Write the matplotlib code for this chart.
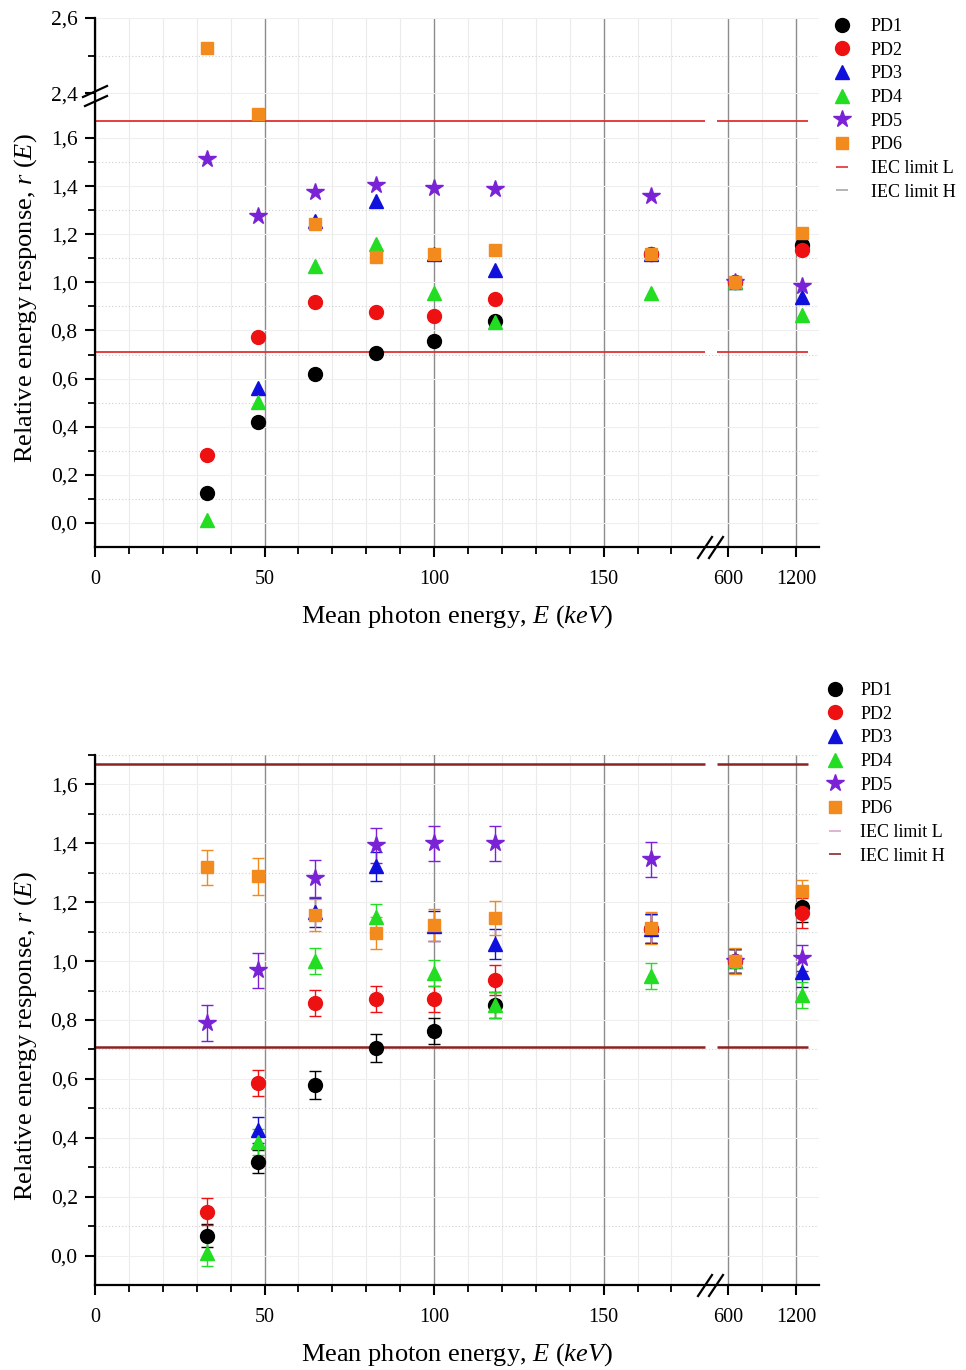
import numpy as np
import matplotlib.pyplot as plt
from matplotlib.lines import Line2D
from matplotlib.ticker import FixedLocator, FuncFormatter

plt.rcParams['font.family'] = ['Liberation Serif', 'DejaVu Serif']
plt.rcParams['mathtext.fontset'] = 'custom'
plt.rcParams['mathtext.rm'] = 'Liberation Serif'
plt.rcParams['mathtext.it'] = 'Liberation Serif:italic'

W, H = 966, 1370
nan = np.nan

# mean photon energy (keV)
energy = [33, 48, 65, 83, 100, 118, 164, 662, 1250]

# upper chart: relative energy response
pd1_top = [0.125, 0.42, 0.62, 0.707, 0.757, 0.84, 1.12, 1.0, 1.156]
pd2_top = [0.283, 0.773, 0.919, 0.877, 0.861, 0.931, 1.12, 1.0, 1.135]
pd3_top = [nan, 0.561, 1.255, 1.34, 1.12, 1.05, 1.12, 1.0, 0.94]
pd4_top = [0.012, 0.503, 1.07, 1.16, 0.956, 0.836, 0.956, 1.0, 0.865]
pd5_top = [1.513, 1.277, 1.376, 1.405, 1.393, 1.389, 1.36, 1.0, 0.985]
pd6_top = [2.52, 1.70, 1.243, 1.106, 1.118, 1.135, 1.118, 1.0, 1.206]

# lower chart: relative energy response with uncertainty
pd1_bot = [0.068, 0.319, 0.58, 0.705, 0.763, 0.851, 1.11, 1.0, 1.183]
pd2_bot = [0.149, 0.586, 0.858, 0.871, 0.871, 0.936, 1.11, 1.0, 1.163]
pd3_bot = [nan, 0.427, 1.166, 1.322, 1.12, 1.058, 1.11, 1.0, 0.963]
pd4_bot = [0.01, 0.386, 1.0, 1.149, 0.959, 0.851, 0.949, 1.0, 0.885]
pd5_bot = [0.79, 0.969, 1.281, 1.393, 1.40, 1.40, 1.346, 1.0, 1.01]
pd6_bot = [1.319, 1.288, 1.156, 1.095, 1.122, 1.146, 1.112, 1.0, 1.237]
err1_bot = [0.04, 0.04, 0.048, 0.047, 0.045, 0.045, 0.05, 0.04, 0.05]
err2_bot = [0.045, 0.045, 0.045, 0.045, 0.045, 0.05, 0.05, 0.04, 0.05]
err3_bot = [nan, 0.045, 0.05, 0.05, 0.05, 0.05, 0.05, 0.04, 0.05]
err4_bot = [0.045, 0.045, 0.045, 0.045, 0.045, 0.045, 0.045, 0.04, 0.045]
err5_bot = [0.062, 0.06, 0.062, 0.06, 0.06, 0.06, 0.06, 0.04, 0.045]
err6_bot = [0.06, 0.062, 0.055, 0.055, 0.055, 0.058, 0.055, 0.045, 0.04]

iec_low, iec_high = 0.71, 1.67

names = ['PD1', 'PD2', 'PD3', 'PD4', 'PD5', 'PD6']
colors = ['black', '#ee1111', '#1010dd', '#22dd22', '#7a22d6', '#f28a1e']
markers = ['o', 'o', '^', '^', '*', 's']
msizes = [10, 10, 10.5, 10.5, 13, 8.5]


def piecewise(xp, fp):
    xp = np.asarray(xp, float)
    fp = np.asarray(fp, float)
    s0 = (fp[1] - fp[0]) / (xp[1] - xp[0])
    s1 = (fp[-1] - fp[-2]) / (xp[-1] - xp[-2])

    def f(v):
        v = np.asarray(v, float)
        out = np.interp(v, xp, fp)
        out = np.where(v < xp[0], fp[0] + (v - xp[0]) * s0, out)
        return np.where(v > xp[-1], fp[-1] + (v - xp[-1]) * s1, out)
    return f


# broken x axis: 0-181 linear, then 500-1400 compressed
x_fwd = piecewise([0, 181, 500, 1400], [0, 181, 183.4, 213.5])
x_inv = piecewise([0, 181, 183.4, 213.5], [0, 181, 500, 1400])
# broken y axis of the upper chart
y_fwd = piecewise([-0.1, 1.76, 2.4, 2.6], [-0.1, 1.76, 1.787, 2.099])
y_inv = piecewise([-0.1, 1.76, 1.787, 2.099], [-0.1, 1.76, 2.4, 2.6])

comma = FuncFormatter(lambda v, p: f'{v:.1f}'.replace('.', ','))

fig = plt.figure(figsize=(W / 100, H / 100), dpi=100)
ax1 = fig.add_axes([95 / W, 1 - 547 / H, 724 / W, 529 / H])
ax2 = fig.add_axes([95 / W, 1 - 1285 / H, 724 / W, 530 / H])

ax1.set_yscale('function', functions=(y_fwd, y_inv))
ax1.set_ylim(-0.1, 2.6)
ax2.set_ylim(-0.1, 1.7)

ymaj1 = [0, 0.2, 0.4, 0.6, 0.8, 1.0, 1.2, 1.4, 1.6, 2.4, 2.6]
ymin1 = [0.1, 0.3, 0.5, 0.7, 0.9, 1.1, 1.3, 1.5, 2.5]
ymaj2 = [0, 0.2, 0.4, 0.6, 0.8, 1.0, 1.2, 1.4, 1.6]
ymin2 = [0.1, 0.3, 0.5, 0.7, 0.9, 1.1, 1.3, 1.5, 1.7]

for ax, ymaj, ymin in ((ax1, ymaj1, ymin1), (ax2, ymaj2, ymin2)):
    ax.set_xscale('function', functions=(x_fwd, x_inv))
    ax.set_xlim(0, 1400)
    ax.xaxis.set_major_locator(FixedLocator([0, 50, 100, 150, 600, 1200]))
    ax.xaxis.set_minor_locator(FixedLocator([10, 20, 30, 40, 60, 70, 80, 90, 110, 120,
                                             130, 140, 160, 170, 900]))
    ax.xaxis.set_major_formatter(FuncFormatter(lambda v, p: f'{v:g}'))
    ax.xaxis.set_minor_formatter(FuncFormatter(lambda v, p: ''))
    ax.yaxis.set_major_locator(FixedLocator(ymaj))
    ax.yaxis.set_minor_locator(FixedLocator(ymin))
    ax.yaxis.set_major_formatter(comma)
    ax.yaxis.set_minor_formatter(FuncFormatter(lambda v, p: ''))
    ax.set_axisbelow(True)
    ax.xaxis.grid(True, which='major', color='#8c8c8c', lw=1.0)
    ax.xaxis.grid(True, which='minor', color='#ebebeb', lw=0.8)
    ax.yaxis.grid(True, which='major', color='#efefef', lw=0.8)
    ax.yaxis.grid(True, which='minor', color='#d0d0d0', lw=0.8, ls=(0, (1, 2)))
    for s in ('top', 'right'):
        ax.spines[s].set_visible(False)
    for s in ('left', 'bottom'):
        ax.spines[s].set_linewidth(1.6)
    ax.tick_params(which='major', direction='out', length=7.5, width=1.5)
    ax.tick_params(which='minor', direction='out', length=5, width=1.3)
    ax.tick_params(axis='y', pad=5, labelsize=15.5)
    ax.tick_params(axis='x', pad=9, labelsize=14.5)
    ax.set_xlabel('Mean photon energy, $E$ ($keV$)', fontsize=19, labelpad=10)
    ax.set_ylabel('Relative energy response, $r$ ($E$)', fontsize=19)

ax1.yaxis.set_label_coords(-0.078, 0.471)
ax2.yaxis.set_label_coords(-0.078, 0.470)

# IEC limits, drawn on both sides of the x break
for lim in (iec_low, iec_high):
    ax1.hlines(lim, 0, 180, color='#e03030', lw=1.3)
    ax1.hlines(lim, 500, 1300, color='#e03030', lw=1.3)
    ax2.hlines(lim, 0, 180, color='#8b2323', lw=1.8)
    ax2.hlines(lim, 500, 1300, color='#8b2323', lw=1.8)

top_sets = [pd1_top, pd2_top, pd3_top, pd4_top, pd5_top, pd6_top]
for vals, c, m, s in zip(top_sets, colors, markers, msizes):
    ax1.plot(energy, vals, ls='none', marker=m, ms=s, color=c, mec=c, zorder=3)

bot_sets = [pd1_bot, pd2_bot, pd3_bot, pd4_bot, pd5_bot, pd6_bot]
bot_errs = [err1_bot, err2_bot, err3_bot, err4_bot, err5_bot, err6_bot]
for vals, errs, c, m, s in zip(bot_sets, bot_errs, colors, markers, msizes):
    ax2.errorbar(energy, vals, yerr=errs, fmt=m, ms=s, color=c, mec=c, ecolor=c,
                 elinewidth=1.0, capsize=4.5, capthick=1.0, zorder=3)


def seg(x0, y0, x1, y1, **kw):
    fig.add_artist(Line2D([x0 / W, x1 / W], [1 - y0 / H, 1 - y1 / H], **kw))


# break marks on the x axes
for base in (547, 1285):
    seg(698, base + 11, 712, base - 10, color='black', lw=1.6)
    seg(709, base + 11, 723, base - 10, color='black', lw=1.6)
# break mark on the y axis of the upper chart
seg(83, 97, 107, 86, color='black', lw=1.6)
seg(85, 106, 107, 96, color='black', lw=1.6)


def legend_handles(lim_colors):
    hs = [Line2D([], [], ls='none', marker=m, ms=s, color=c, mec=c)
          for c, m, s in zip(colors, markers, msizes)]
    hs += [Line2D([], [], ls='none', marker='_', ms=9, mew=1.2, color=lc) for lc in lim_colors]
    return hs


labels = names + ['IEC limit L', 'IEC limit H']
fig.legend(legend_handles(['#e03030', '#a8a8a8']), labels, loc='upper left',
           bbox_to_anchor=(833 / W, 1 - 18 / H), frameon=False, fontsize=13,
           handlelength=1.0, handletextpad=1.1, labelspacing=0.37, borderpad=0,
           borderaxespad=0)
fig.legend(legend_handles(['#d8a8c8', '#8b2a2a']), labels, loc='upper left',
           bbox_to_anchor=(826 / W, 1 - 682 / H), frameon=False, fontsize=13,
           handlelength=1.0, handletextpad=0.9, labelspacing=0.37, borderpad=0,
           borderaxespad=0)

fig.savefig('out.png', dpi=100)
